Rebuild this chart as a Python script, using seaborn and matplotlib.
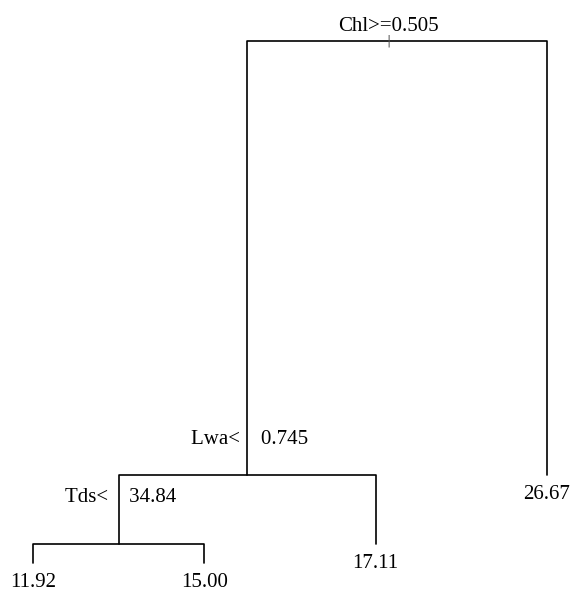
import numpy as np
import pandas as pd
import matplotlib
matplotlib.use("Agg")
import matplotlib.pyplot as plt
import seaborn as sns

# ---- tree data (rpart node numbering) ----
split_nodes = [1, 2, 4]
split_var = ["Chl", "Lwa", "Tds"]
split_op = [">=", "<", "<"]
split_cut = ["0.505", "0.745", "34.84"]
split_gain = [434, 69, 19]          # relative deviance reduction of each split
leaf_nodes = [8, 9, 5, 3]           # left-to-right order
leaf_text = ["11.92", "15.00", "17.11", "26.67"]

sns.set_theme(style="white")
plt.rcParams["font.family"] = ["Liberation Serif", "DejaVu Serif"]

# ---- coordinates like rpartco ----
x = {n: float(i + 1) for i, n in enumerate(leaf_nodes)}
for n in sorted(split_nodes, reverse=True):
    x[n] = 0.5 * (x[2 * n] + x[2 * n + 1])
gain = dict(zip(split_nodes, split_gain))
y = {1: 0.0}
for n in sorted(split_nodes):
    for c in (2 * n, 2 * n + 1):
        y[c] = y[n] - gain[n]

rows = []
seg = 0
for n in split_nodes:
    l, r = 2 * n, 2 * n + 1
    for px, py in [(x[l], y[l]), (x[l], y[n]), (x[r], y[n]), (x[r], y[r])]:
        rows.append({"seg": seg, "x": px, "y": py})
    seg += 1
df = pd.DataFrame(rows)

fig = plt.figure(figsize=(5.72, 5.92), dpi=100)
ax = fig.add_axes([0, 0, 1, 1])
sns.lineplot(data=df, x="x", y="y", units="seg", estimator=None, sort=False,
             color="black", linewidth=1.2, ax=ax)

ax.set_xlim(0.8074, 4.1465)
ax.set_ylim(-551, 41)
ax.axis("off")

# root marker
ax.annotate("|", (x[1], y[1]), xytext=(-9, 0), textcoords="offset pixels",
            ha="center", va="center", fontsize=9,
            color="#555555", family="DejaVu Sans")

label_off = {1: (-9, 10), 2: (2, 31), 4: (2, 42)}
for n, v, op, c in zip(split_nodes, split_var, split_op, split_cut):
    sep = "    " if op == "<" else ""
    t = f"{v}{op}{sep}{c}"
    ax.annotate(t, (x[n], y[n]), xytext=label_off[n], textcoords="offset pixels",
                ha="center", va="baseline", fontsize=15, color="black")
for n, t in zip(leaf_nodes, leaf_text):
    ax.annotate(t, (x[n], y[n]), xytext=(0, -24), textcoords="offset pixels",
                ha="center", va="baseline", fontsize=15, color="black")

fig.savefig("out.png", dpi=100)
